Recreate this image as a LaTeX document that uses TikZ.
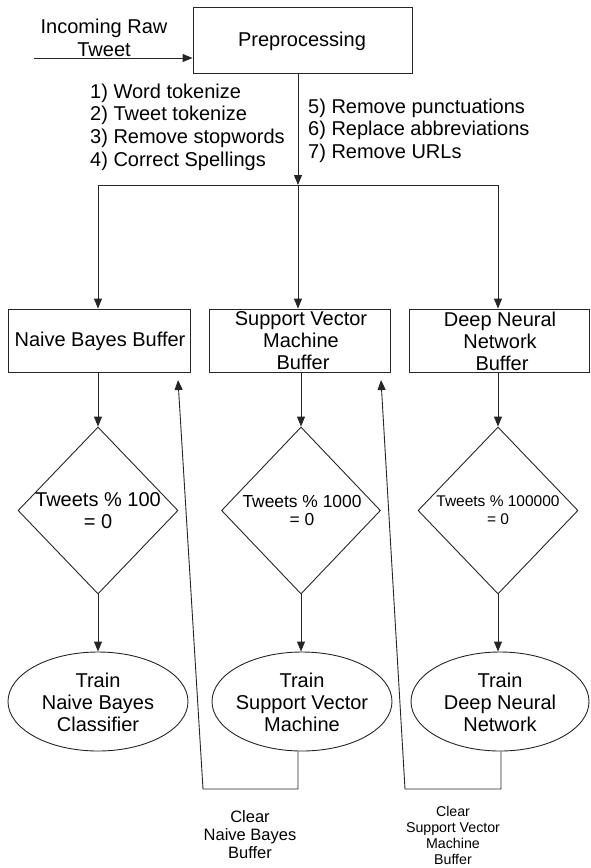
\documentclass[tikz,border=0pt]{standalone}
\usepackage{fontspec}
\setmainfont{Liberation Sans}
\usetikzlibrary{shapes.geometric,arrows.meta}
\begin{document}
\begin{tikzpicture}[x=1pt,y=-1pt,
  ln/.style={draw=black!85, line width=0.9pt},
  arr/.style={ln, -{Triangle[length=10pt,width=8pt]}},
  txt/.style={font=\fontsize{20}{22.5}\selectfont, align=center, inner sep=0pt, text=black},
  boxnode/.style={ln, rectangle, minimum height=63pt, inner sep=0pt},
  decision/.style={ln, diamond, minimum width=160pt, minimum height=167pt, inner sep=0pt},
  trainnode/.style={ln, ellipse, minimum width=180pt, minimum height=99pt, inner sep=0pt},
]
\path[use as bounding box] (0,0) rectangle (590,868);

% preprocessing stage
\node[ln, rectangle, minimum width=219pt, minimum height=66pt, inner sep=0pt] (pre) at (302.5,40) {};
\node[txt] (pret) at (302,41) {Preprocessing};
\node[txt] (inc) at (104,38) {Incoming Raw\\Tweet};
\coordinate (src) at (34,58);
\draw[arr] (src) -- (src -| pre.west);

\node[txt, align=left, anchor=west, font=\fontsize{20}{22.7}\selectfont] (steps1) at (90,127)
  {1) Word tokenize\\2) Tweet tokenize\\3) Remove stopwords\\4) Correct Spellings};
\node[txt, align=left, anchor=west] (steps2) at (308,130.5)
  {5) Remove punctuations\\6) Replace abbreviations\\7) Remove URLs};

% fan-out to the three buffers
\coordinate (split) at (298,185);
\coordinate (br1) at (98,185);
\coordinate (br3) at (498,185);
\draw[arr] (split |- pre.south) -- (split);
\draw[ln] (br1) -- (br3);

\node[boxnode, minimum width=182pt] (b1) at (99,340.5) {};
\node[boxnode, minimum width=181pt] (b2) at (299.5,340.5) {};
\node[boxnode, minimum width=180pt] (b3) at (499,340.5) {};
\node[txt] (b1t) at (100,341) {Naive Bayes Buffer};
\node[txt, font=\fontsize{20}{22}\selectfont] (b2t) at (301,341) {Support Vector\\Machine\\\hspace{4pt}Buffer};
\node[txt, font=\fontsize{20}{22}\selectfont] (b3t) at (500,341) {Deep Neural\\Network\\\hspace{4pt}Buffer};

\draw[arr] (br1) -- (br1 |- b1.north);
\draw[arr] (split) -- (split |- b2.north);
\draw[arr] (br3) -- (br3 |- b3.north);

% batch-size checks
\node[decision] (d1) at (98,510.5) {};
\node[decision, minimum width=159pt] (d2) at (301,510.5) {};
\node[decision] (d3) at (498,510.5) {};
\node[txt, font=\fontsize{20}{22}\selectfont] (d1t) at (98,511) {Tweets \% 100\\= 0};
\node[txt, font=\fontsize{17.4}{18}\selectfont] (d2t) at (302,511) {Tweets \% 1000\\= 0};
\node[txt, font=\fontsize{15.5}{18}\selectfont] (d3t) at (498,510) {Tweets \% 100000\\= 0};

\draw[arr] (d1.north |- b1.south) -- (d1.north);
\draw[arr] (d2.north |- b2.south) -- (d2.north);
\draw[arr] (d3.north |- b3.south) -- (d3.north);

% training steps
\node[trainnode] (e1) at (98,701.5) {};
\node[trainnode] (e2) at (302,701.5) {};
\node[trainnode, minimum width=178pt] (e3) at (500,701.5) {};
\node[txt, font=\fontsize{20}{22}\selectfont] (e1t) at (98,702) {Train\\Naive Bayes\\Classifier};
\node[txt, font=\fontsize{20}{22}\selectfont] (e2t) at (302,702) {Train\\Support Vector\\Machine};
\node[txt, font=\fontsize{20}{22}\selectfont] (e3t) at (500,702) {Train\\Deep Neural\\Network};

\draw[arr] (d1.south) -- (d1.south |- e1.north);
\draw[arr] (d2.south) -- (d2.south |- e2.north);
\draw[arr] (d3.south) -- (d3.south |- e3.north);

% buffer-clearing feedback
\coordinate (r1a) at (298,789);
\coordinate (r1b) at (203,789);
\coordinate (t1) at (178,380);
\draw[arr] (r1a |- e2.south) -- (r1a) -- (r1b) -- (t1);
\coordinate (r2a) at (501,789);
\coordinate (r2b) at (405,789);
\coordinate (t2) at (381,380);
\draw[arr] (r2a |- e3.south) -- (r2a) -- (r2b) -- (t2);

\node[txt, font=\fontsize{16.5}{18}\selectfont] (lab1) at (250,835) {Clear\\Naive Bayes\\Buffer};
\node[txt, font=\fontsize{14.2}{16}\selectfont] (lab2) at (453,835) {Clear\\Support Vector\\Machine\\Buffer};
\end{tikzpicture}
\end{document}
